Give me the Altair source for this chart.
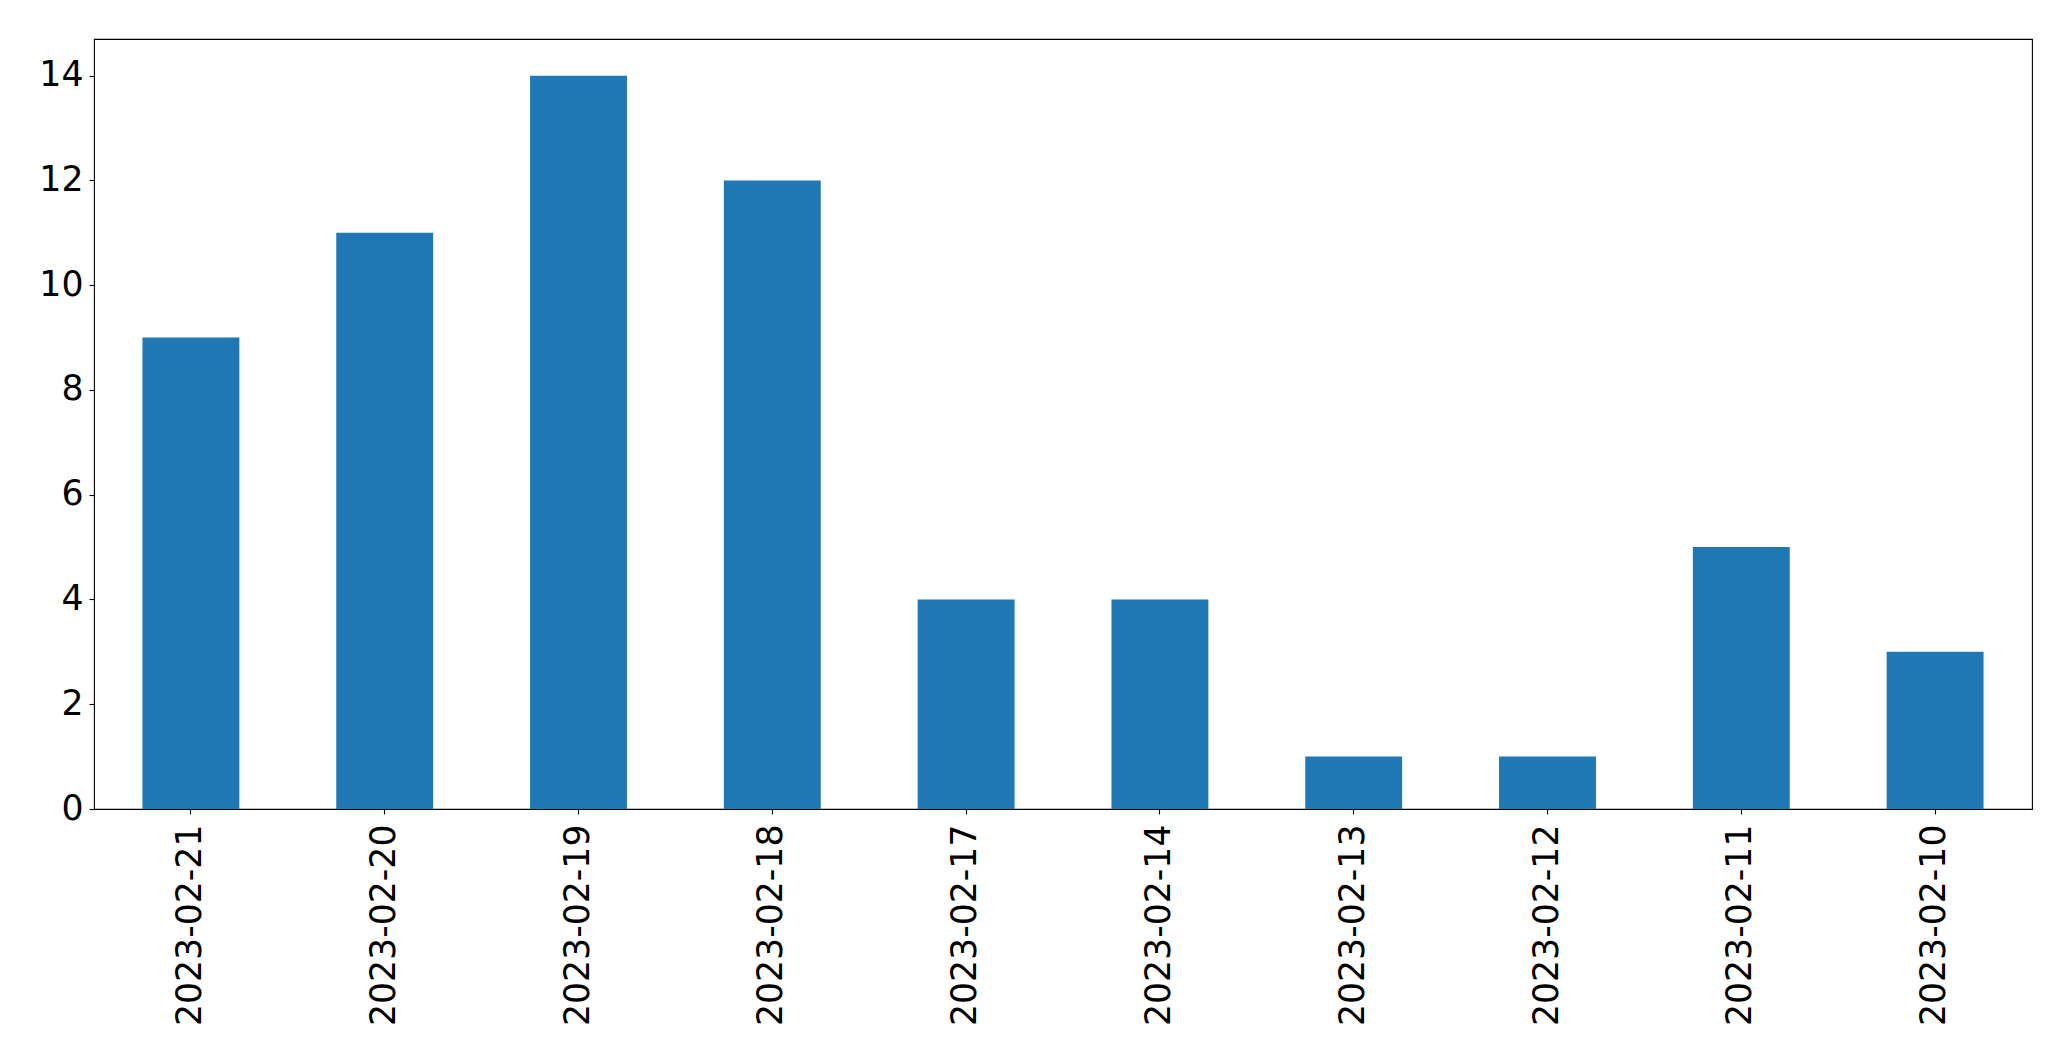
import altair as alt
import pandas as pd

dates = ["2023-02-21", "2023-02-20", "2023-02-19", "2023-02-18", "2023-02-17",
         "2023-02-14", "2023-02-13", "2023-02-12", "2023-02-11", "2023-02-10"]
counts = [9, 11, 14, 12, 4, 4, 1, 1, 5, 3]
y_ticks = [0, 2, 4, 6, 8, 10, 12, 14]

df = pd.DataFrame({"date": dates, "count": counts})

chart = alt.Chart(df).mark_bar(color="#1f77b4").encode(
    x=alt.X("date:N", sort=dates, title=None,
            scale=alt.Scale(paddingInner=0.5, paddingOuter=0.25),
            axis=alt.Axis(labelAngle=270, labelAlign="right", labelBaseline="middle",
                          labelFontSize=34.7, labelPadding=10, tickSize=5, labelLimit=0,
                          tickColor="black", domain=False, labelColor="black",
                          labelFont="DejaVu Sans", ticks=True, tickWidth=1.1)),
    y=alt.Y("count:Q", title=None,
            scale=alt.Scale(domain=[0, 14.7], nice=False, zero=True),
            axis=alt.Axis(values=y_ticks, labelFontSize=34.7, labelPadding=6,
                          tickSize=5, tickColor="black", domain=False, grid=False,
                          labelColor="black", labelFont="DejaVu Sans", tickWidth=1.1))
).properties(
    width=1938, height=770,
    autosize=alt.AutoSizeParams(type="none"),
    padding={"left": 86, "top": 31, "right": 30, "bottom": 235}
).configure(
    background="white"
).configure_view(
    stroke="black", strokeWidth=1.1
)

chart.save("out.html", embed_options={"renderer": "svg", "actions": False})
